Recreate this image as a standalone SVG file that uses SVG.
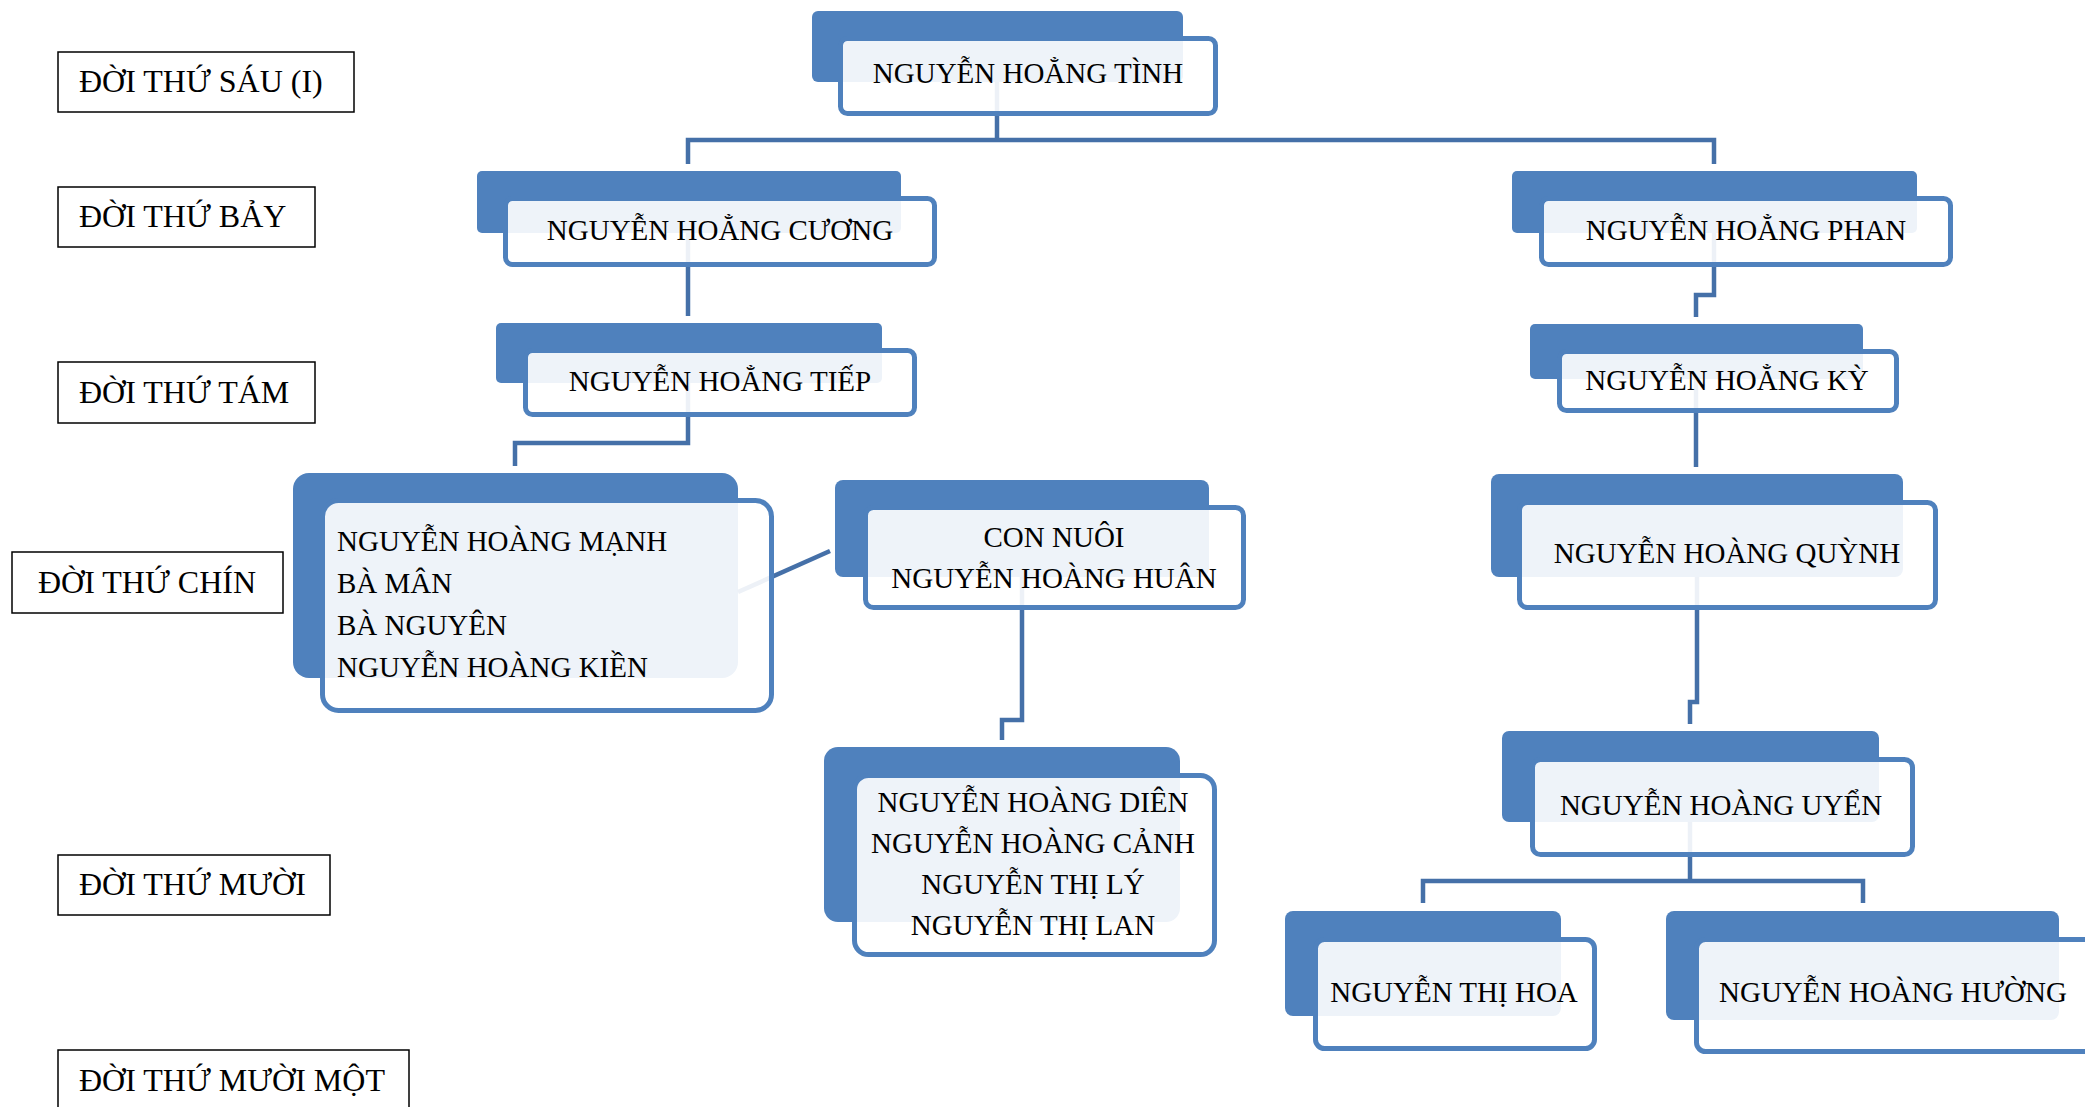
<svg xmlns="http://www.w3.org/2000/svg" width="2085" height="1107" viewBox="0 0 2085 1107">
<style>
.back{fill:#4F81BD;}
.front{fill:#FFFFFF;fill-opacity:0.9;stroke:#4F81BD;stroke-width:5;}
.t{font-family:"Liberation Serif","Times New Roman",serif;font-size:29px;fill:#000;}
.c{text-anchor:middle;}
.lbl rect{fill:#fff;stroke:#000;stroke-width:1.5;}
.lt{font-family:"Liberation Serif","Times New Roman",serif;font-size:32px;fill:#000;}
.conn{fill:none;stroke:#4570A8;stroke-width:4.5;stroke-linejoin:miter;}
</style>
<rect width="2085" height="1107" fill="#fff"/>

<g id="labels">
<g id="lbl-6" class="lbl"><rect x="58" y="52" width="296" height="60"/><text class="lt" x="79" y="92">ĐỜI THỨ SÁU (I)</text></g>
<g id="lbl-7" class="lbl"><rect x="58" y="187" width="257" height="60"/><text class="lt" x="79" y="227">ĐỜI THỨ BẢY</text></g>
<g id="lbl-8" class="lbl"><rect x="58" y="362" width="257" height="61"/><text class="lt" x="79" y="403">ĐỜI THỨ TÁM</text></g>
<g id="lbl-9" class="lbl"><rect x="12" y="552" width="271" height="61"/><text class="lt" x="38" y="593">ĐỜI THỨ CHÍN</text></g>
<g id="lbl-10" class="lbl"><rect x="58" y="855" width="272" height="60"/><text class="lt" x="79" y="895">ĐỜI THỨ MƯỜI</text></g>
<g id="lbl-11" class="lbl"><rect x="58" y="1050" width="351" height="80"/><text class="lt" x="79" y="1091">ĐỜI THỨ MƯỜI MỘT</text></g>
</g>

<g id="back-shapes">
<rect class="back" x="812" y="11" width="371" height="71" rx="6"/>
<rect class="back" x="477" y="171" width="424" height="62" rx="5"/>
<rect class="back" x="496" y="323" width="386" height="60" rx="5"/>
<rect class="back" x="293" y="473" width="445" height="205" rx="16"/>
<rect class="back" x="835" y="480" width="374" height="97" rx="8"/>
<rect class="back" x="824" y="747" width="356" height="175" rx="14"/>
<rect class="back" x="1512" y="171" width="405" height="62" rx="5"/>
<rect class="back" x="1530" y="324" width="333" height="55" rx="5"/>
<rect class="back" x="1491" y="474" width="412" height="103" rx="8"/>
<rect class="back" x="1502" y="731" width="377" height="91" rx="7"/>
<rect class="back" x="1285" y="911" width="276" height="105" rx="8"/>
<rect class="back" x="1666" y="911" width="393" height="109" rx="8"/>
</g>

<g id="connectors">
<path class="conn" d="M997,82 V140"/>
<path class="conn" d="M688,164 V140 H1714 V164"/>
<path class="conn" d="M688,233 V316"/>
<path class="conn" d="M688,383 V443 H515 V466"/>
<path class="conn" d="M738,592 L830,551"/>
<path class="conn" d="M1022,577 V720 H1002 V740"/>
<path class="conn" d="M1714,233 V295 H1696 V317"/>
<path class="conn" d="M1696,379 V467"/>
<path class="conn" d="M1697,577 V702 H1690 V724"/>
<path class="conn" d="M1690,822 V881"/>
<path class="conn" d="M1423,903 V881 H1863 V903"/>
</g>

<g id="n-tinh"><rect class="front" x="840.5" y="38.5" width="375" height="75" rx="7"/><text class="t c" x="1028" y="83">NGUYỄN HOẲNG TÌNH</text></g>
<g id="n-cuong"><rect class="front" x="505.5" y="198.5" width="429" height="66" rx="7"/><text class="t c" x="720" y="240">NGUYỄN HOẲNG CƯƠNG</text></g>
<g id="n-tiep"><rect class="front" x="525.5" y="350.5" width="389" height="64" rx="7"/><text class="t c" x="720" y="391">NGUYỄN HOẲNG TIẾP</text></g>
<g id="n-manh"><rect class="front" x="322.5" y="500.5" width="449" height="210" rx="16"/>
<text class="t" x="337" y="551">NGUYỄN HOÀNG MẠNH</text>
<text class="t" x="337" y="593">BÀ MÂN</text>
<text class="t" x="337" y="635">BÀ NGUYÊN</text>
<text class="t" x="337" y="677">NGUYỄN HOÀNG KIỀN</text></g>
<g id="n-huan"><rect class="front" x="865.5" y="507.5" width="378" height="100" rx="8"/>
<text class="t c" x="1054" y="547">CON NUÔI</text>
<text class="t c" x="1054" y="588">NGUYỄN HOÀNG HUÂN</text></g>
<g id="n-dien"><rect class="front" x="854.5" y="775.5" width="360" height="179" rx="14"/>
<text class="t c" x="1033" y="812">NGUYỄN HOÀNG DIÊN</text>
<text class="t c" x="1033" y="853">NGUYỄN HOÀNG CẢNH</text>
<text class="t c" x="1033" y="894">NGUYỄN THỊ LÝ</text>
<text class="t c" x="1033" y="935">NGUYỄN THỊ LAN</text></g>
<g id="n-phan"><rect class="front" x="1541.5" y="198.5" width="409" height="66" rx="7"/><text class="t c" x="1746" y="240">NGUYỄN HOẲNG PHAN</text></g>
<g id="n-ky"><rect class="front" x="1559.5" y="351.5" width="337" height="59" rx="7"/><text class="t c" x="1727" y="390">NGUYỄN HOẲNG KỲ</text></g>
<g id="n-quynh"><rect class="front" x="1519.5" y="502.5" width="416" height="105" rx="8"/><text class="t c" x="1727" y="563">NGUYỄN HOÀNG QUỲNH</text></g>
<g id="n-uyen"><rect class="front" x="1532.5" y="759.5" width="380" height="95" rx="8"/><text class="t c" x="1721" y="815">NGUYỄN HOÀNG UYỂN</text></g>
<g id="n-hoa"><rect class="front" x="1315.5" y="939.5" width="279" height="109" rx="9"/><text class="t c" x="1454" y="1002">NGUYỄN THỊ HOA</text></g>
<g id="n-huong"><rect class="front" x="1696.5" y="939.5" width="420" height="112" rx="9"/><text class="t c" x="1893" y="1002">NGUYỄN HOÀNG HƯỜNG</text></g>
</svg>
